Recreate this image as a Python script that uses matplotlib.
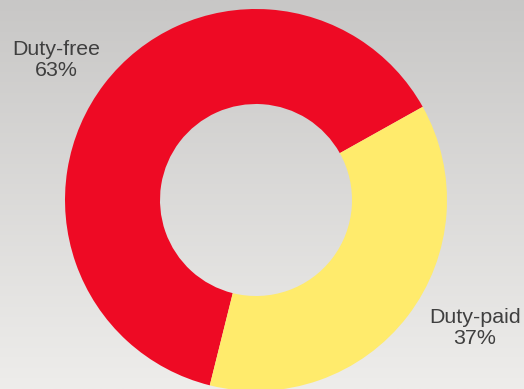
import numpy as np
import matplotlib.pyplot as plt

labels = ["Duty-free", "Duty-paid"]
shares = [63, 37]
colors = ["#ee0a24", "#ffeb6c"]

W, H = 524, 389
fig = plt.figure(figsize=(W / 100, H / 100), dpi=100)

# soft grey backdrop, darker at the top
bg = fig.add_axes([0, 0, 1, 1])
grad = np.linspace(0, 1, 256).reshape(-1, 1)
top = np.array([0xc8, 0xc7, 0xc6]) / 255
bottom = np.array([0xee, 0xed, 0xeb]) / 255
img = top + (bottom - top) * grad[..., None]
bg.imshow(img, aspect="auto", extent=(0, 1, 0, 1))
bg.axis("off")

ax = fig.add_axes([0, 0, 1, 1])
ax.patch.set_alpha(0)
ax.pie(shares, colors=colors, startangle=-104, counterclock=False,
       radius=191, center=(256, H - 200),
       wedgeprops=dict(width=95, linewidth=0))
ax.set_xlim(0, W)
ax.set_ylim(0, H)
ax.set_aspect("auto")
ax.axis("off")

txt = dict(fontsize=15.4, color="#3f3f3f", family="Liberation Sans",
           ha="center", va="center", multialignment="center", linespacing=1.12)
ax.text(56, H - 60, f"{labels[0]}\n{shares[0]}%", **txt)
ax.text(475, H - 328, f"{labels[1]}\n{shares[1]}%", **txt)

fig.savefig("out.png", dpi=100)
